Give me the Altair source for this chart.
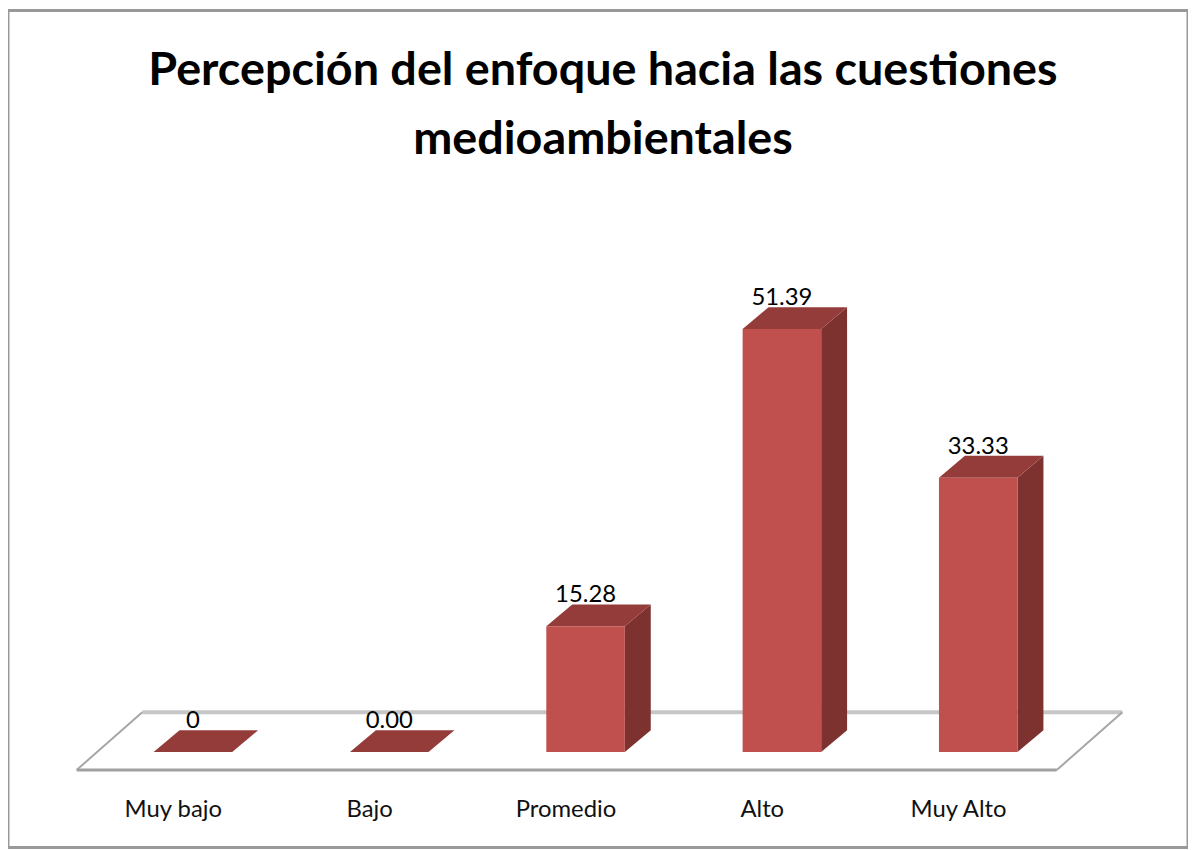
import altair as alt
import pandas as pd

# ---- data ----
categories = ["Muy bajo", "Bajo", "Promedio", "Alto", "Muy Alto"]
values = [0, 0, 15.28, 51.39, 33.33]
value_labels = ["0", "0.00", "15.28", "51.39", "33.33"]
title_lines = ["Percepción del enfoque hacia las cuestiones", "medioambientales"]

# ---- geometry / style (not data) ----
W, H = 1187, 842
X_DOMAIN = [-0.9418, 5.0684]
Y_DOMAIN = [-11.594, 90.097]
HW = 0.2      # half bar width (category units)
DX = 0.132    # depth offset x
DY = 2.66     # depth offset y (value units)
FLOOR_FRONT_Y = -2.17
FLOOR_BACK_Y = 4.83
FLOOR_LEFT = -0.592
FLOOR_RIGHT_PAD = 0.40
FLOOR_DX = 0.334
FRONT_COL = "#c0504d"
SIDE_COL = "#7d3230"
TOP_COL = "#943c3a"
FONT = "Lato"

idx = list(range(len(categories)))

front = pd.DataFrame({
    "cat": categories,
    "x": [i - HW for i in idx],
    "x2": [i + HW for i in idx],
    "y": [0.0] * len(idx),
    "y2": values,
})
front = front[front["y2"] > 0]

side_rows, top_rows = [], []
for i, c, v in zip(idx, categories, values):
    side_rows.append({"cat": c, "x": i + HW, "y": 0.0, "y2": v})
    side_rows.append({"cat": c, "x": i + HW + DX, "y": DY, "y2": v + DY})
    top_rows += [
        {"cat": c, "x": i - HW, "y": v, "y2": v},
        {"cat": c, "x": i - HW + DX, "y": v, "y2": v + DY},
        {"cat": c, "x": i + HW, "y": v, "y2": v + DY},
        {"cat": c, "x": i + HW + DX, "y": v + DY, "y2": v + DY},
    ]
side = pd.DataFrame(side_rows)
top = pd.DataFrame(top_rows)

last = idx[-1]
floor_edges = pd.DataFrame([
    {"edge": "back", "x": FLOOR_LEFT + FLOOR_DX, "y": FLOOR_BACK_Y},
    {"edge": "back", "x": last + FLOOR_RIGHT_PAD + FLOOR_DX, "y": FLOOR_BACK_Y},
    {"edge": "left", "x": FLOOR_LEFT, "y": FLOOR_FRONT_Y},
    {"edge": "left", "x": FLOOR_LEFT + FLOOR_DX, "y": FLOOR_BACK_Y},
    {"edge": "right", "x": last + FLOOR_RIGHT_PAD, "y": FLOOR_FRONT_Y},
    {"edge": "right", "x": last + FLOOR_RIGHT_PAD + FLOOR_DX, "y": FLOOR_BACK_Y},
    {"edge": "front", "x": FLOOR_LEFT, "y": FLOOR_FRONT_Y},
    {"edge": "front", "x": last + FLOOR_RIGHT_PAD, "y": FLOOR_FRONT_Y},
])

labels = pd.DataFrame({
    "x": idx,
    "y": [v + DY for v in values],
    "label": value_labels,
})
cat_labels = pd.DataFrame({
    "x": [i - 0.1 for i in idx],
    "y": [-7.85] * len(idx),
    "cat": categories,
})

xs = alt.Scale(domain=X_DOMAIN, nice=False, zero=False)
ys = alt.Scale(domain=Y_DOMAIN, nice=False, zero=False)

def X(f="x"):
    return alt.X(f"{f}:Q", scale=xs, axis=None)

def Y(f="y"):
    return alt.Y(f"{f}:Q", scale=ys, axis=None)

back_edge = alt.Chart(floor_edges[floor_edges.edge == "back"]).mark_line(
    color="#c6c6c6", strokeWidth=4).encode(x=X(), y=Y(), detail="edge:N")
side_edges = alt.Chart(floor_edges[floor_edges.edge.isin(["left", "right"])]).mark_line(
    color="#a6a6a6", strokeWidth=2).encode(x=X(), y=Y(), detail="edge:N")
front_edge = alt.Chart(floor_edges[floor_edges.edge == "front"]).mark_line(
    color="#a0a0a0", strokeWidth=3).encode(x=X(), y=Y(), detail="edge:N")

side_faces = alt.Chart(side).mark_area(color=SIDE_COL).encode(
    x=X(), y=Y(), y2="y2:Q", detail="cat:N")
top_faces = alt.Chart(top).mark_area(color=TOP_COL).encode(
    x=X(), y=Y(), y2="y2:Q", detail="cat:N")
front_faces = alt.Chart(front).mark_rect(color=FRONT_COL).encode(
    x=X(), x2="x2:Q", y=Y(), y2="y2:Q")

value_text = alt.Chart(labels).mark_text(
    font=FONT, fontSize=24, color="#000000", baseline="alphabetic", align="center", dy=-2
).encode(x=X(), y=Y(), text="label:N")

cat_text = alt.Chart(cat_labels).mark_text(
    font=FONT, fontSize=24, color="#111111", baseline="alphabetic", align="center"
).encode(x=X(), y=Y(), text="cat:N")

chart = alt.layer(
    back_edge, side_edges, front_edge, side_faces, top_faces, front_faces, value_text, cat_text
).properties(
    width=W, height=H,
    title=alt.TitleParams(
        title_lines, anchor="middle", font=FONT, fontSize=47, fontWeight="bold",
        color="#000000", lineHeight=69, baseline="alphabetic", offset=-191, orient="top",
        dx=5,
    ),
    autosize=alt.AutoSizeParams(type="none"),
    padding={"left": 0, "top": 0, "right": 0, "bottom": 0},
).configure_view(stroke="#999999", strokeWidth=3)

chart.save("out.html", embed_options={"renderer": "svg", "actions": False})
